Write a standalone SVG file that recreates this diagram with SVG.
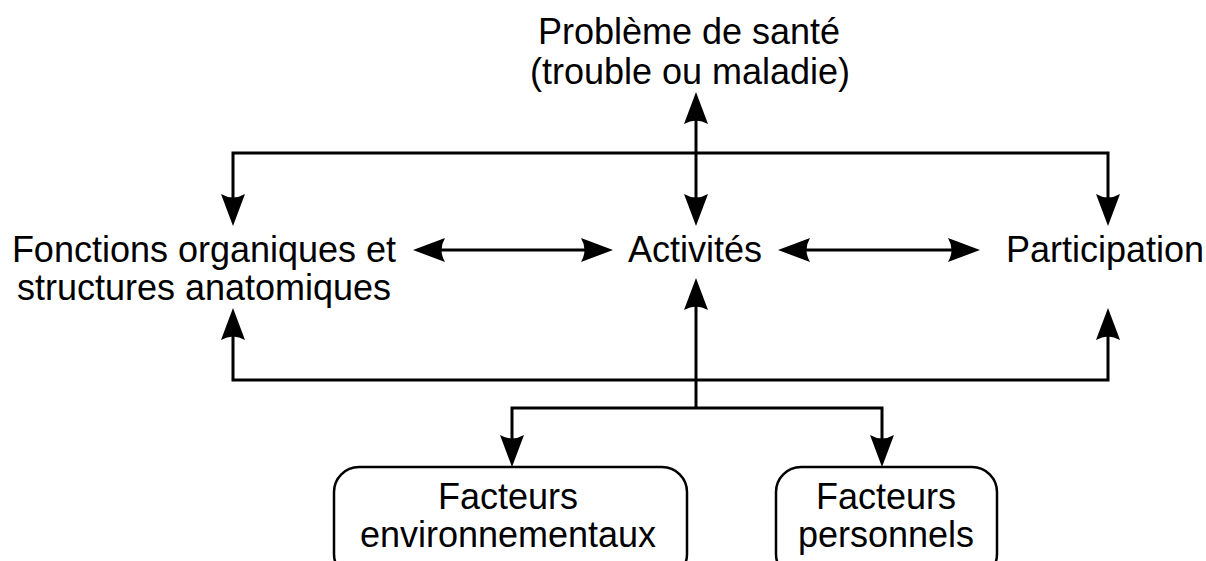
<svg xmlns="http://www.w3.org/2000/svg" width="1206" height="561" viewBox="0 0 1206 561">
<defs>
<style>
text{font-family:"Liberation Sans",Arial,sans-serif;font-size:36px;fill:#000;text-anchor:middle}
.ln{fill:none;stroke:#000;stroke-width:3}
.box{fill:#fff;stroke:#000;stroke-width:2.5}
</style>
<marker id="ah" viewBox="-32 -12 32 24" refX="-20" refY="0" markerWidth="32" markerHeight="24" markerUnits="userSpaceOnUse" orient="auto-start-reverse">
<path d="M0,0 L-32,-12 Q-25,0 -32,12 Z" fill="#000"/>
</marker>
</defs>
<rect width="1206" height="561" fill="#fff"/>
<g id="connectors">
<path class="ln" d="M696,112 L696,206" marker-start="url(#ah)" marker-end="url(#ah)"/>
<path class="ln" d="M233,206 L233,153 L1108,153 L1108,206" marker-start="url(#ah)" marker-end="url(#ah)"/>
<path class="ln" d="M433,250 L593,250" marker-start="url(#ah)" marker-end="url(#ah)"/>
<path class="ln" d="M798,250 L960,250" marker-start="url(#ah)" marker-end="url(#ah)"/>
<path class="ln" d="M233,328 L233,380 L1108,380 L1108,328" marker-start="url(#ah)" marker-end="url(#ah)"/>
<path class="ln" d="M696,408 L696,298" marker-end="url(#ah)"/>
<path class="ln" d="M512,447 L512,408 L882,408 L882,447" marker-start="url(#ah)" marker-end="url(#ah)"/>
</g>
<g id="sante">
<text x="689" y="44">Problème de santé</text>
<text x="690" y="84">(trouble ou maladie)</text>
</g>
<g id="fonctions">
<text x="204" y="262">Fonctions organiques et</text>
<text x="204" y="300">structures anatomiques</text>
</g>
<g id="activites">
<text x="695" y="262">Activités</text>
</g>
<g id="participation">
<text x="1105" y="262">Participation</text>
</g>
<g id="environnementaux">
<rect class="box" x="334" y="467" width="353" height="112" rx="25"/>
<text x="508" y="509">Facteurs</text>
<text x="508" y="547">environnementaux</text>
</g>
<g id="personnels">
<rect class="box" x="776" y="467" width="221" height="112" rx="25"/>
<text x="886" y="509">Facteurs</text>
<text x="886" y="547">personnels</text>
</g>
</svg>
